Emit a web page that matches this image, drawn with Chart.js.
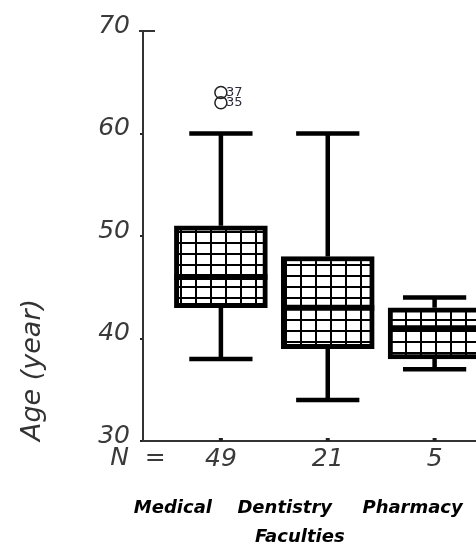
<!DOCTYPE html>
<html>
<head>
<meta charset="utf-8">
<script src="https://cdn.jsdelivr.net/npm/chart.js@4.4.0/dist/chart.umd.min.js"></script>
<style>
html,body{margin:0;padding:0;background:#fff;overflow:hidden;width:476px;height:549px;}
canvas{display:block;}
</style>
</head>
<body>
<canvas id="c" width="520" height="549"></canvas>
<script>
// ---- data ----
const categories = ['Medical', 'Dentistry', 'Pharmacy'];
const nCounts = ['49', '21', '5'];
const positions = [1, 2, 3];
const whiskerLow = [38, 34, 37];
const q1 = [43, 39, 38];
const median = [46, 43, 41];
const q3 = [51, 48, 43];
const whiskerHigh = [60, 60, 44];
const outlierX = [1, 1];
const outlierValues = [64, 63];
const outlierLabels = ['37', '35'];
const yTicks = [30, 40, 50, 60, 70];

// ---- grid pattern for boxes ----
function makePattern() {
  const p = document.createElement('canvas');
  p.width = 15; p.height = 11;
  const g = p.getContext('2d');
  g.fillStyle = '#fff';
  g.fillRect(0, 0, 15, 11);
  g.fillStyle = '#000';
  g.fillRect(0, 0, 2, 11);
  g.fillRect(0, 0, 15, 2);
  return document.getElementById('c').getContext('2d').createPattern(p, 'repeat');
}
const pattern = makePattern();

const FONT = '"DejaVu Sans", Verdana, sans-serif';

const boxExtras = {
  id: 'boxExtras',
  beforeDatasetsDraw(chart) {
    const ctx = chart.ctx;
    const y = chart.scales.y;
    const meta = chart.getDatasetMeta(0);
    ctx.save();
    ctx.strokeStyle = '#000';
    ctx.lineWidth = 4.5;
    ctx.lineCap = 'butt';
    meta.data.forEach((bar, i) => {
      const cx = bar.x;
      const capHalf = bar.width * 0.34;
      ctx.beginPath();
      ctx.moveTo(cx, y.getPixelForValue(whiskerLow[i]));
      ctx.lineTo(cx, y.getPixelForValue(q1[i]));
      ctx.moveTo(cx, y.getPixelForValue(q3[i]));
      ctx.lineTo(cx, y.getPixelForValue(whiskerHigh[i]));
      ctx.moveTo(cx - capHalf, y.getPixelForValue(whiskerLow[i]));
      ctx.lineTo(cx + capHalf, y.getPixelForValue(whiskerLow[i]));
      ctx.moveTo(cx - capHalf, y.getPixelForValue(whiskerHigh[i]));
      ctx.lineTo(cx + capHalf, y.getPixelForValue(whiskerHigh[i]));
      ctx.stroke();
    });
    ctx.restore();
  },
  afterDatasetsDraw(chart) {
    const ctx = chart.ctx;
    const x = chart.scales.x;
    const y = chart.scales.y;
    const meta = chart.getDatasetMeta(0);
    ctx.save();
    ctx.strokeStyle = '#000';
    ctx.lineWidth = 6;
    meta.data.forEach((bar, i) => {
      const half = bar.width / 2;
      const py = y.getPixelForValue(median[i]);
      ctx.beginPath();
      ctx.moveTo(bar.x - half, py);
      ctx.lineTo(bar.x + half, py);
      ctx.stroke();
    });
    // outlier labels
    ctx.fillStyle = '#2a2a3a';
    ctx.font = '13px ' + FONT;
    ctx.textAlign = 'left';
    ctx.textBaseline = 'middle';
    outlierValues.forEach((v, i) => {
      ctx.fillText(outlierLabels[i], x.getPixelForValue(outlierX[i]) + 5, y.getPixelForValue(v));
    });
    // top tick at 70
    ctx.strokeStyle = '#333';
    ctx.lineWidth = 2;
    ctx.beginPath();
    const ty = y.getPixelForValue(yTicks[yTicks.length - 1]);
    ctx.moveTo(chart.chartArea.left - 4, ty);
    ctx.lineTo(chart.chartArea.left + 12, ty);
    ctx.stroke();
    // small x ticks above axis
    ctx.fillStyle = '#222';
    positions.forEach(p => {
      const px = x.getPixelForValue(p);
      ctx.fillRect(px - 2, chart.chartArea.bottom - 3, 4, 3);
    });
    ctx.restore();
  },
  afterDraw(chart) {
    const ctx = chart.ctx;
    const x = chart.scales.x;
    const area = chart.chartArea;
    ctx.save();
    // N =
    ctx.fillStyle = '#3a3a3a';
    ctx.font = 'italic 25px ' + FONT;
    ctx.textAlign = 'center';
    ctx.textBaseline = 'middle';
    ctx.fillText('N  =', area.left - 5, area.bottom + 17);
    // category names
    ctx.fillStyle = '#000';
    ctx.font = 'italic bold 18px ' + FONT;
    const shift = [-48, -43, -22];
    categories.forEach((c, i) => {
      ctx.fillText(c, x.getPixelForValue(positions[i]) + shift[i], area.bottom + 67);
    });
    ctx.fillText('Faculties', x.getPixelForValue(positions[1]) - 28, area.bottom + 96);
    // y title
    ctx.fillStyle = '#333';
    ctx.font = 'italic 27px ' + FONT;
    ctx.translate(33, 370);
    ctx.rotate(-Math.PI / 2);
    ctx.fillText('Age (year)', 0, 0);
    ctx.restore();
  }
};

new Chart(document.getElementById('c'), {
  type: 'bar',
  data: {
    datasets: [
      {
        data: positions.map((p, i) => ({ x: p, y: [q1[i], q3[i]] })),
        backgroundColor: pattern,
        borderColor: '#000',
        borderWidth: 5,
        borderSkipped: false,
        barThickness: 93
      },
      {
        type: 'scatter',
        data: outlierX.map((p, i) => ({ x: p, y: outlierValues[i] })),
        pointStyle: 'circle',
        pointRadius: 6,
        pointBorderWidth: 1.5,
        borderColor: '#222',
        backgroundColor: 'rgba(0,0,0,0)'
      }
    ]
  },
  options: {
    responsive: false,
    animation: false,
    events: [],
    layout: { padding: { left: 0, top: 31, right: 7, bottom: 0 } },
    plugins: { legend: { display: false }, tooltip: { enabled: false } },
    scales: {
      x: {
        type: 'linear',
        offset: false,
        min: 0.271,
        max: 3.729,
        afterBuildTicks: s => { s.ticks = positions.map(v => ({ value: v })); },
        afterFit: s => { s.height = 108; },
        grid: { display: false, drawTicks: false, tickLength: 0 },
        border: { display: true, color: '#333', width: 2 },
        ticks: {
          autoSkip: false,
          maxRotation: 0,
          padding: 3,
          color: '#3a3a3a',
          font: { family: FONT, size: 25, style: 'italic' },
          callback: (v, i) => nCounts[i]
        }
      },
      y: {
        min: 30,
        max: 70,
        afterBuildTicks: s => { s.ticks = yTicks.map(v => ({ value: v })); },
        afterFit: s => { s.width = 143; },
        grid: { drawOnChartArea: false, drawTicks: true, tickLength: 3, color: '#222', lineWidth: 2 },
        border: { display: true, color: '#333', width: 2 },
        ticks: {
          padding: 10,
          labelOffset: -5,
          color: '#3a3a3a',
          font: { family: FONT, size: 25, style: 'italic' }
        }
      }
    }
  },
  plugins: [boxExtras]
});
</script>
</body>
</html>
